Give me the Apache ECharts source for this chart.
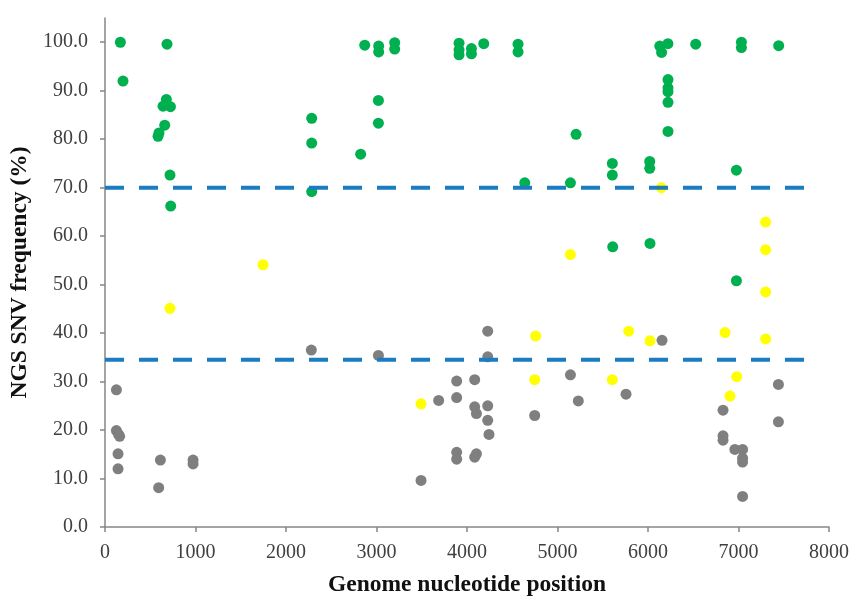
<!DOCTYPE html>
<html lang="en">
<head>
    <meta charset="UTF-8">
    <title>NGS SNV frequency</title>
    <style>
        html, body { margin: 0; padding: 0; background: #fff; }
    </style>
</head>
<body>
<div id="main" style="width: 854px;height:597px;"></div>
<script src="https://cdn.jsdelivr.net/npm/echarts@6/dist/echarts.min.js"></script>
<script>
    // 读图得到的数据 [位置, 频率%]
    var greenPoints = [
        [170, 100], [685, 99.6], [199, 92.0], [678, 88.2], [641, 86.8], [723, 86.7], [660, 82.9],
        [597, 81.3], [586, 80.6], [718, 72.6], [726, 66.2],
        [2284, 84.3], [2284, 79.2], [2284, 69.2], [2825, 76.9], [3021, 88.0], [3021, 83.3],
        [2870, 99.4], [3024, 99.2], [3024, 98.0], [3201, 99.9], [3201, 98.6],
        [3912, 99.8], [3912, 98.4], [3912, 97.4], [4049, 98.7], [4049, 97.6], [4185, 99.7],
        [4564, 99.6], [4564, 98.0],
        [4638, 71.0], [5143, 71.0], [5205, 81.0],
        [5606, 75.0], [5606, 72.6], [5610, 57.8], [6019, 75.4], [6019, 74.0], [6022, 58.5],
        [6130, 99.2], [6150, 97.9], [6220, 99.7], [6221, 92.3], [6221, 90.6], [6221, 89.8],
        [6221, 87.6], [6221, 81.6],
        [6527, 99.6], [7032, 100], [7032, 98.9], [7444, 99.3], [6977, 73.6], [6977, 50.8]
    ];
    var yellowPoints = [
        [1746, 54.1], [718, 45.1], [5143, 56.2], [3492, 25.4], [4759, 39.4], [4748, 30.4],
        [5787, 40.4], [6022, 38.4], [5606, 30.4], [6851, 40.1], [6980, 31.0], [6906, 27.0],
        [7300, 48.5], [7300, 38.8], [7300, 62.9], [7300, 57.2], [6148, 70.0]
    ];
    var grayPoints = [
        [126, 28.3], [126, 19.9], [150, 19.1], [162, 18.7], [144, 15.1], [144, 12.0],
        [612, 13.8], [593, 8.1], [973, 13.8], [973, 13.0],
        [2280, 36.5], [3021, 35.4], [4229, 40.4], [4229, 35.1], [3886, 30.1], [4085, 30.4],
        [3687, 26.1], [3886, 26.7], [4085, 24.8], [4104, 23.4], [4229, 25.0], [4229, 22.0],
        [4243, 19.1], [3886, 15.4], [3886, 14.0], [4104, 15.1], [4085, 14.4], [3492, 9.6],
        [4748, 23.0], [5143, 31.4], [5230, 26.0], [5757, 27.4], [6155, 38.5],
        [6829, 24.1], [6829, 18.8], [6829, 17.9], [6960, 16.0], [7045, 16.0], [7045, 14.2],
        [7045, 13.4], [7045, 6.3], [7441, 29.4], [7441, 21.7]
    ];
    // 两条阈值虚线
    var thresholds = [70, 34.5];
    var lineStartX = 0;
    var lineEndX = 7810;
    // 纵轴刻度（轴顶到105，但只标到100）
    var yTicks = [0, 10, 20, 30, 40, 50, 60, 70, 80, 90, 100];

    var axisColor = '#868686';
    var labelColor = '#404040';
    var fontName = '"Liberation Serif", "Times New Roman", serif';

    function scatter(name, data, color) {
        return {
            name: name,
            type: 'scatter',
            data: data,
            symbolSize: 11,
            itemStyle: { color: color, opacity: 1 }
        };
    }

    var app = echarts.init(document.getElementById('main'));
    var series = [];
    series.push(scatter('gray', grayPoints, '#7f7f7f'));
    series.push(scatter('yellow', yellowPoints, '#ffff00'));
    for (var i = 0; i < thresholds.length; i++) {
        series.push({
            type: 'line',
            symbol: 'none',
            silent: true,
            data: [[lineStartX, thresholds[i]], [lineEndX, thresholds[i]]],
            lineStyle: { color: '#1b7cc2', width: 4, type: [19, 15] }
        });
    }
    series.push(scatter('green', greenPoints, '#00b050'));

    var option = {
        animation: false,
        backgroundColor: '#fff',
        grid: {
            left: 105,
            right: 25,
            top: 18,
            bottom: 70,
            containLabel: false,
            outerBoundsMode: 'none'
        },
        xAxis: {
            type: 'value',
            min: 0,
            max: 8000,
            interval: 1000,
            name: 'Genome nucleotide position',
            nameLocation: 'middle',
            nameGap: 46,
            nameTextStyle: { fontFamily: fontName, fontWeight: 'bold', fontSize: 23.5, color: '#111' },
            splitLine: { show: false },
            axisLine: { lineStyle: { color: axisColor, width: 1.5 } },
            axisTick: { show: true, inside: false, length: 5, lineStyle: { color: axisColor, width: 1.5 } },
            axisLabel: {
                fontFamily: fontName, fontSize: 20, color: labelColor, margin: 16,
                formatter: function (v) { return String(v); }
            }
        },
        yAxis: {
            type: 'value',
            min: 0,
            max: 105,
            interval: 10,
            name: 'NGS SNV frequency (%)',
            nameLocation: 'middle',
            nameGap: 72,
            nameTextStyle: { fontFamily: fontName, fontWeight: 'bold', fontSize: 23.5, color: '#111' },
            splitLine: { show: false },
            axisLine: { show: true, lineStyle: { color: axisColor, width: 1.5 } },
            axisTick: {
                show: true, inside: false, length: 5, customValues: yTicks,
                lineStyle: { color: axisColor, width: 1.5 }
            },
            axisLabel: {
                fontFamily: fontName, fontSize: 20, color: labelColor, margin: 17,
                customValues: yTicks,
                formatter: function (v) { return v.toFixed(1); }
            }
        },
        series: series
    };
    app.setOption(option);
</script>
</body>
</html>
